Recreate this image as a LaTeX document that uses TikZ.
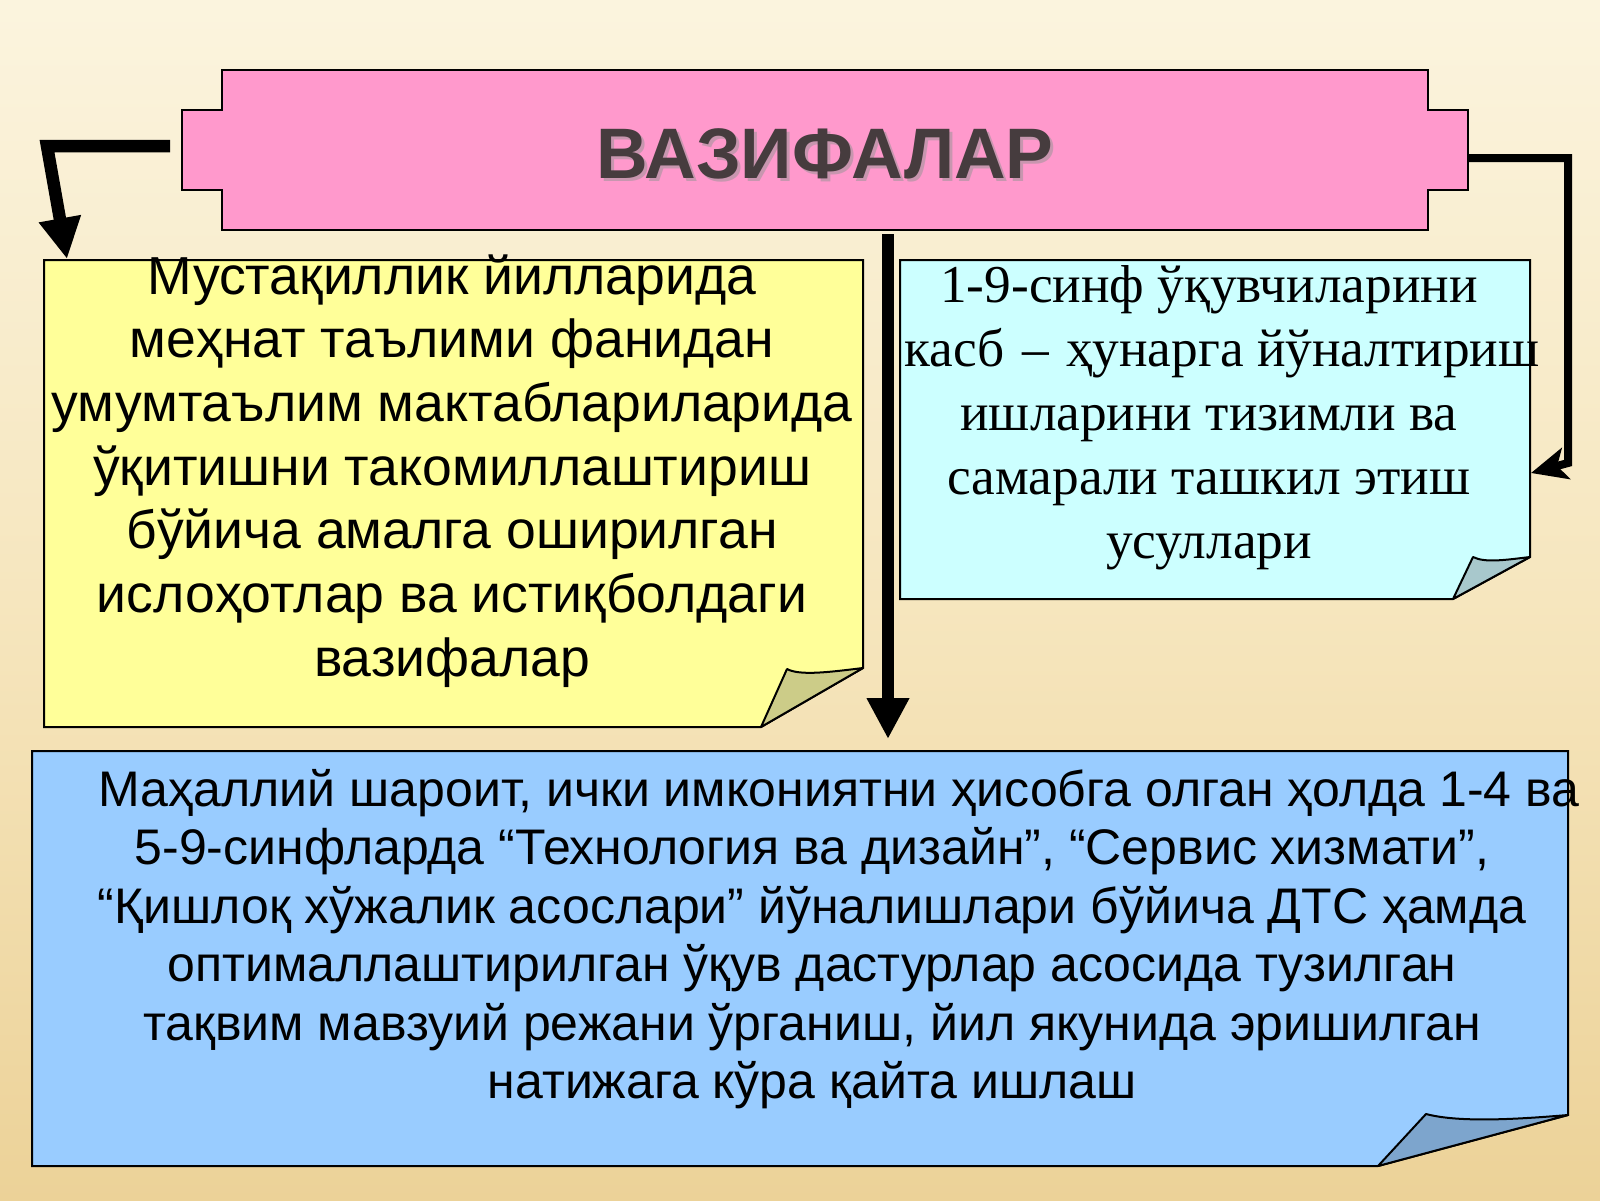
\documentclass[tikz,border=0pt]{standalone}
\usepackage{fontspec}
\setmainfont{Liberation Sans}
\newfontfamily\serifcyr{Liberation Serif}
\usetikzlibrary{arrows.meta}
\definecolor{bgtop}{RGB}{251,244,222}
\definecolor{bgmid}{RGB}{246,230,190}
\definecolor{bgbot}{RGB}{236,210,152}
\definecolor{pinkbox}{RGB}{255,153,204}
\definecolor{yellowbox}{RGB}{255,255,153}
\definecolor{yellowflap}{RGB}{204,204,136}
\definecolor{cyanbox}{RGB}{204,255,255}
\definecolor{cyanflap}{RGB}{168,200,204}
\definecolor{bluebox}{RGB}{153,204,255}
\definecolor{blueflap}{RGB}{125,165,205}
\definecolor{titlegray}{RGB}{70,60,62}
\definecolor{titleshadow}{RGB}{200,150,175}
\tikzset{
  boxline/.style={draw=black, line width=2pt, line join=miter},
  flapline/.style={draw=black, line width=2pt, line join=round},
  bigarrow/.style={line width=12.5pt, line join=miter, -{Triangle[length=41pt,width=40pt]}},
  thinarrow/.style={line width=8pt, line join=miter, -{Stealth[length=36pt,width=32pt,inset=9pt]}},
  textnode/.style={inner sep=0pt, anchor=base}
}
\begin{document}
\begin{tikzpicture}[x=1pt,y=-1pt]
\useasboundingbox (0,0) rectangle (1600,1200);
% background
\shade[top color=bgtop, bottom color=bgmid] (0,0) rectangle (1600,600);
\shade[top color=bgmid, bottom color=bgbot] (0,600) rectangle (1600,1200);

% title box
\path[boxline, fill=pinkbox]
  (222,70) -- (1428,70) -- (1428,110) -- (1468,110) -- (1468,190) -- (1428,190)
  -- (1428,230) -- (222,230) -- (222,190) -- (182,190) -- (182,110) -- (222,110) -- cycle;
\node[textnode, text=titleshadow] at (828,181) {\fontsize{71.5}{75}\selectfont\bfseries ВАЗИФАЛАР};
\node[textnode, text=titlegray] (title) at (825,178) {\fontsize{71.5}{75}\selectfont\bfseries ВАЗИФАЛАР};

% left yellow box
\path[boxline, fill=yellowbox]
  (44,260) -- (863,260) -- (863,668) -- (761,727) -- (44,727) -- cycle;
\path[flapline, fill=yellowflap]
  (761,727) -- (787,669) .. controls (800,676) and (830,672) .. (863,668) -- cycle;
\node[textnode] (lefttext) at (452,294) {\parbox[t]{900pt}{\centering\fontsize{53.5}{63.7}\selectfont
  Мустақиллик йилларида\\
  меҳнат таълими фанидан\\
  умумтаълим мактаблариларида\\
  ўқитишни такомиллаштириш\\
  бўйича амалга оширилган\\
  ислоҳотлар ва истиқболдаги\\
  вазифалар}};

% right cyan box
\path[boxline, fill=cyanbox]
  (900,260) -- (1530,260) -- (1530,557) -- (1453,599) -- (900,599) -- cycle;
\path[flapline, fill=cyanflap]
  (1453,599) -- (1473,557) .. controls (1485,563) and (1505,560) .. (1530,557) -- cycle;
\node[textnode] (righttext) at (1209,302) {\parbox[t]{800pt}{\centering\serifcyr\fontsize{53.3}{64}\selectfont
  1-9-синф ўқувчиларини\\
  \hspace*{26pt}касб\hspace{4pt} – \hspace{4pt}ҳунарга йўналтириш\\
  ишларини тизимли ва\\
  самарали ташкил этиш\\
  усуллари}};

% bottom blue box
\path[boxline, fill=bluebox]
  (32,751) -- (1568,751) -- (1568,1115) -- (1378,1166) -- (32,1166) -- cycle;
\path[flapline, fill=blueflap]
  (1378,1166) -- (1426,1114) .. controls (1460,1123) and (1520,1119) .. (1568,1115) -- cycle;
\node[textnode] (bottomtext) at (812,806) {\parbox[t]{1600pt}{\centering\fontsize{50}{58.5}\selectfont
  \hspace*{54pt}Маҳаллий шароит, ички имкониятни ҳисобга олган ҳолда 1-4 ва\\
  5-9-синфларда “Технология ва дизайн”, “Сервис хизмати”,\\
  “Қишлоқ хўжалик асослари” йўналишлари бўйича ДТС ҳамда\\
  оптималлаштирилган ўқув дастурлар асосида тузилган\\
  тақвим мавзуий режани ўрганиш, йил якунида эришилган\\
  натижага кўра қайта ишлаш}};

% connectors
\coordinate (lstart) at (170,146);
\coordinate (lcorner) at (47,146);
\coordinate (lend) at (67,259);
\draw[bigarrow] (lstart) -- (lcorner) -- (lend);

\coordinate (cstart) at (888,234);
\coordinate (cend) at (888,739);
\draw[bigarrow] (cstart) -- (cend);

\coordinate (rstart) at (1468,158);
\coordinate (rcorner1) at (1568,158);
\coordinate (rcorner2) at (1568,463);
\coordinate (rend) at (1531,473);
\draw[thinarrow] (rstart) -- (rcorner1) -- (rcorner2) -- (rend);
\end{tikzpicture}
\end{document}
